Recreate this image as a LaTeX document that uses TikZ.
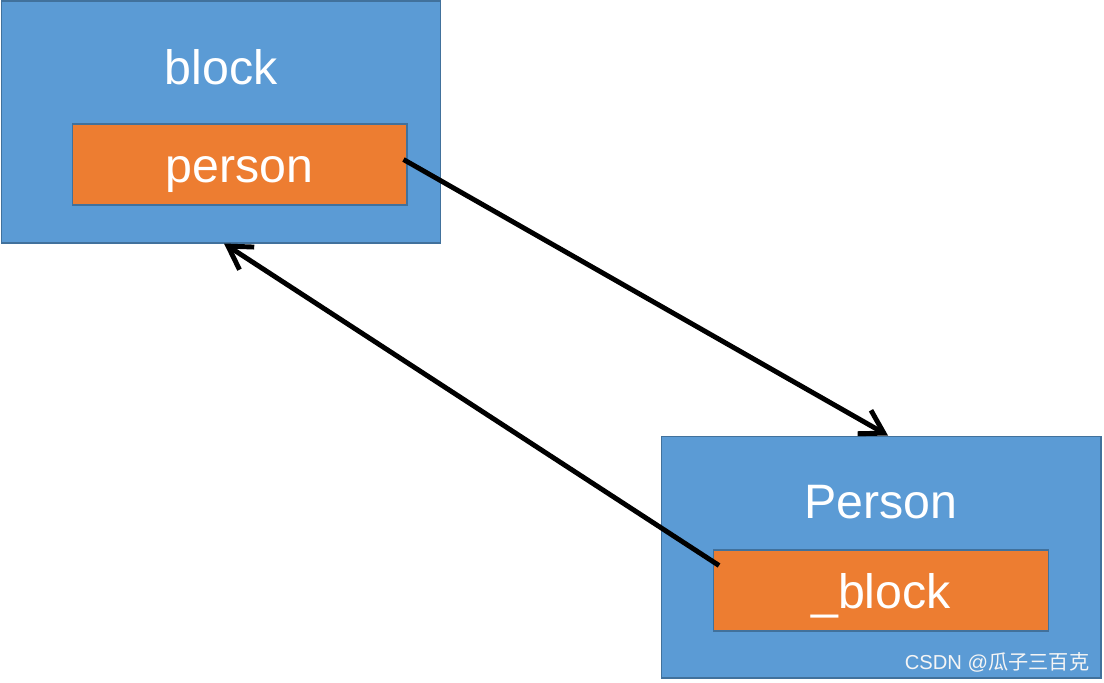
\documentclass[tikz,border=0pt]{standalone}
\usepackage{fontspec}
\setmainfont{Liberation Sans}
\newfontfamily\cjkfont{Noto Sans CJK SC}
\usetikzlibrary{positioning,arrows.meta}
\definecolor{boxblue}{HTML}{5B9BD5}
\definecolor{boxorange}{HTML}{ED7D31}
\definecolor{edgeblue}{HTML}{41719C}

\begin{document}
\begin{tikzpicture}[x=0.02cm, y=-0.02cm,
    outer/.style={draw=edgeblue, fill=boxblue, line width=0.6pt, minimum width=8.8cm, minimum height=4.84cm, inner sep=0pt},
    inner/.style={draw=edgeblue, fill=boxorange, line width=0.6pt, minimum width=6.7cm, minimum height=1.62cm, inner sep=0pt, text height=0.72cm, text depth=0pt},
    lbl/.style={text=white, font=\fontsize{27.5}{32}\selectfont, inner sep=0pt},
    link/.style={line width=2.8pt, -{Straight Barb[length=4.5mm, width=5.4mm]}}]
    \useasboundingbox (0,0) rectangle (1104,682);

    \node[outer] (blockbox) at (221,122) {};
    \node[inner, lbl] (person) at (239.5,164.5) {person};
    \node[lbl] (blocktitle) at (221,67) {block};

    \node[outer] (personbox) at (881,557) {};
    \node[inner, lbl] (blk) at (881,590.5) {\_block};
    \node[lbl] (persontitle) at (881,502) {Person};

    \node[text=white!92!gray, font=\fontsize{11.5}{13}\selectfont, inner sep=0pt] (mark) at (997,662) {CSDN @\cjkfont 瓜子三百克};

    \draw[link] ([shift={(-4,-5)}]person.east) -- ([xshift=0.14cm]personbox.north);
    \draw[link] ([shift={(6,16)}]blk.north west) -- ([xshift=0.06cm]blockbox.south);
\end{tikzpicture}
\end{document}
